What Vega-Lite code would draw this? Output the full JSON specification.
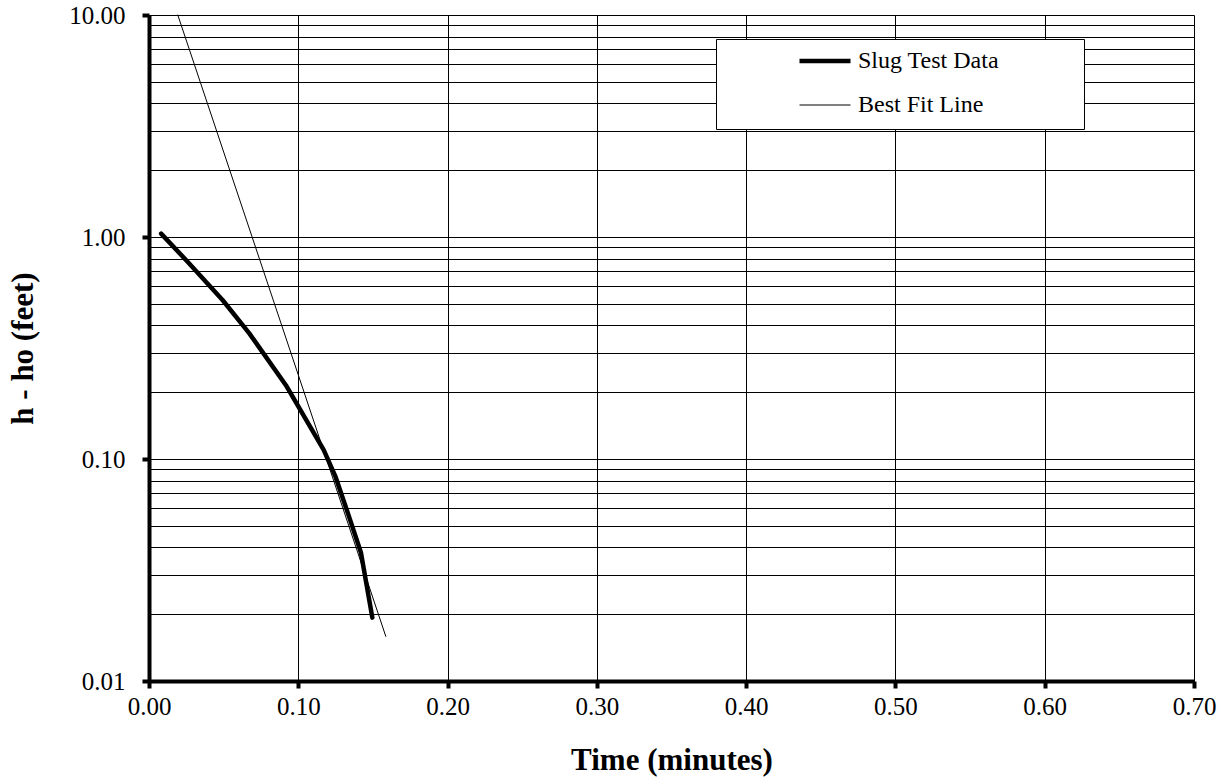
{
  "$schema": "https://vega.github.io/schema/vega-lite/v6.json",
  "width": 1045,
  "height": 666,
  "autosize": {"type": "none"},
  "padding": {"left": 149, "top": 15, "right": 33, "bottom": 101},
  "background": "white",
  "config": {"view": {"stroke": null}, "font": "Liberation Serif"},
  "data": {
    "values": [
      {"time": 0.0081, "head": 1.036, "series": "Slug Test Data"},
      {"time": 0.026, "head": 0.772, "series": "Slug Test Data"},
      {"time": 0.0494, "head": 0.519, "series": "Slug Test Data"},
      {"time": 0.0672, "head": 0.368, "series": "Slug Test Data"},
      {"time": 0.0917, "head": 0.215, "series": "Slug Test Data"},
      {"time": 0.117, "head": 0.11, "series": "Slug Test Data"},
      {"time": 0.125, "head": 0.083, "series": "Slug Test Data"},
      {"time": 0.134, "head": 0.055, "series": "Slug Test Data"},
      {"time": 0.142, "head": 0.0378, "series": "Slug Test Data"},
      {"time": 0.1496, "head": 0.0193, "series": "Slug Test Data"},
      {"time": 0.0193, "head": 10, "series": "Best Fit Line"},
      {"time": 0.1586, "head": 0.0159, "series": "Best Fit Line"}
    ]
  },
  "mark": {"type": "line", "strokeCap": "round", "strokeJoin": "round"},
  "encoding": {
    "x": {
      "field": "time",
      "type": "quantitative",
      "scale": {"domain": [0, 0.7], "nice": false},
      "axis": {
        "title": "Time (minutes)",
        "values": [0, 0.1, 0.2, 0.3, 0.4, 0.5, 0.6, 0.7],
        "format": ".2f",
        "labelFont": "Liberation Serif",
        "labelFontSize": 25,
        "labelColor": "black",
        "labelPadding": 6,
        "labelOverlap": false,
        "labelBound": false,
        "labelFlush": false,
        "titleFont": "Liberation Serif",
        "titleFontSize": 31,
        "titleFontWeight": "bold",
        "titleColor": "black",
        "titlePadding": 26,
        "domainColor": "black",
        "domainWidth": 4,
        "tickColor": "black",
        "tickWidth": 4,
        "tickSize": 7,
        "grid": true,
        "gridColor": "black",
        "gridWidth": 1,
        "gridOpacity": 1
      }
    },
    "y": {
      "field": "head",
      "type": "quantitative",
      "scale": {"type": "log", "domain": [0.01, 10], "nice": false},
      "axis": {
        "title": "h - ho (feet)",
        "values": [0.01, 0.02, 0.03, 0.04, 0.05, 0.06, 0.07, 0.08, 0.09, 0.1, 0.2, 0.3, 0.4, 0.5, 0.6, 0.7, 0.8, 0.9, 1, 2, 3, 4, 5, 6, 7, 8, 9, 10],
        "labelExpr": "indexof([0.01, 0.1, 1, 10], datum.value) >= 0 ? format(datum.value, '.2f') : ''",
        "labelFont": "Liberation Serif",
        "labelFontSize": 25,
        "labelColor": "black",
        "labelPadding": 17,
        "labelOverlap": false,
        "labelBound": false,
        "labelFlush": false,
        "titleFont": "Liberation Serif",
        "titleFontSize": 31,
        "titleFontWeight": "bold",
        "titleColor": "black",
        "titlePadding": 29,
        "domainColor": "black",
        "domainWidth": 4,
        "tickColor": "black",
        "tickWidth": 4,
        "tickSize": 7,
        "tickOpacity": {"condition": {"test": "indexof([0.01, 0.1, 1, 10], datum.value) >= 0", "value": 1}, "value": 0},
        "grid": true,
        "gridColor": "black",
        "gridWidth": 1,
        "gridOpacity": 1
      }
    },
    "color": {
      "field": "series",
      "type": "nominal",
      "scale": {"domain": ["Slug Test Data", "Best Fit Line"], "range": ["black", "black"]},
      "legend": {
        "orient": "none",
        "legendX": 567,
        "legendY": 24,
        "fillColor": "white",
        "strokeColor": "black",
        "padding": 12,
        "symbolType": "stroke",
        "symbolSize": 2601,
        "symbolOffset": 69,
        "clipHeight": 20,
        "labelFont": "Liberation Serif",
        "labelFontSize": 24,
        "labelColor": "black",
        "labelOffset": 5,
        "rowPadding": 20,
        "title": "\u00a0",
        "titleOrient": "right",
        "titleFontSize": 1,
        "titlePadding": 73
      }
    },
    "strokeWidth": {
      "field": "series",
      "type": "nominal",
      "scale": {"domain": ["Slug Test Data", "Best Fit Line"], "range": [4.5, 1]},
      "legend": {
        "orient": "none",
        "legendX": 567,
        "legendY": 24,
        "fillColor": "white",
        "strokeColor": "black",
        "padding": 12,
        "symbolType": "stroke",
        "symbolSize": 2601,
        "symbolOffset": 69,
        "clipHeight": 20,
        "labelFont": "Liberation Serif",
        "labelFontSize": 24,
        "labelColor": "black",
        "labelOffset": 5,
        "rowPadding": 20,
        "title": "\u00a0",
        "titleOrient": "right",
        "titleFontSize": 1,
        "titlePadding": 73
      }
    }
  }
}
